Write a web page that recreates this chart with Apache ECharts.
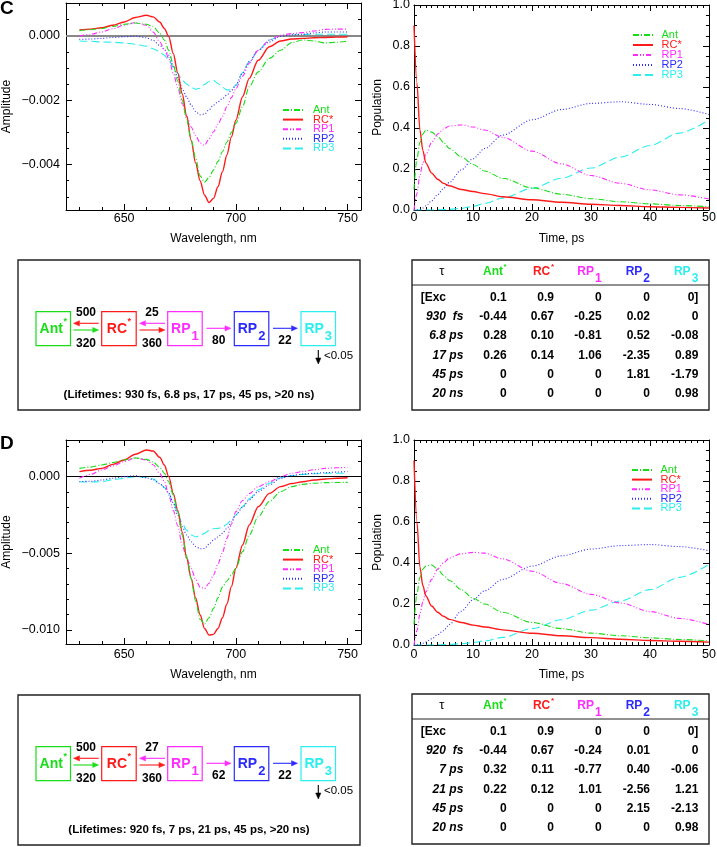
<!DOCTYPE html>
<html><head><meta charset="utf-8">
<script src="https://cdn.jsdelivr.net/npm/echarts@6/dist/echarts.min.js"></script>
<style>html,body{margin:0;padding:0;background:#fff}#c{width:717px;height:847px}</style>
</head><body><div id="c"></div>
<script>
// ---------------- DATA ----------------
const speciesNames = ['Ant', 'RC*', 'RP1', 'RP2', 'RP3'];
const speciesColors = ['#18dd18', '#ff1a1a', '#ff2cff', '#2b2bff', '#2ceeee'];
const speciesDash = [[6, 2, 1, 2], 'solid', [5, 2, 1, 2, 1, 2], [1, 2], [8, 4]];

// wavelength grid (nm), amplitudes in units of 1e-3
const wavelength = [630,635,640,645,650,655,660,663,666,668,670,672,674,676,678,680,682,684,686,688,690,692,694,696,698,700,703,706,710,715,720,725,730,735,740,745,750];

const specC_Ant = [0.16,0.19,0.23,0.29,0.36,0.40,0.36,0.28,0.08,-0.13,-0.45,-0.9,-1.4,-2.0,-2.6,-3.24,-3.8,-4.35,-4.55,-4.4,-4.17,-3.9,-3.6,-3.3,-3.0,-2.72,-2.2,-1.58,-1.12,-0.70,-0.45,-0.21,-0.13,-0.16,-0.22,-0.2,-0.16];
const specC_RC  = [0.18,0.21,0.25,0.33,0.43,0.57,0.64,0.59,0.42,0.23,-0.03,-0.55,-1.15,-1.8,-2.5,-3.24,-3.95,-4.5,-4.95,-5.18,-5.05,-4.69,-4.22,-3.7,-3.14,-2.62,-1.89,-1.32,-0.76,-0.34,-0.16,-0.1,-0.08,-0.06,-0.05,-0.04,-0.03];
const specC_RP1 = [-0.01,0.05,0.12,0.22,0.33,0.41,0.33,0.12,-0.19,-0.42,-0.7,-1.15,-1.6,-2.1,-2.5,-2.83,-3.1,-3.33,-3.40,-3.2,-2.98,-2.75,-2.5,-2.2,-1.92,-1.64,-1.25,-0.85,-0.45,-0.13,0.02,0.07,0.10,0.15,0.2,0.21,0.21];
const specC_RP2 = [-0.11,-0.1,-0.08,-0.05,-0.03,-0.01,-0.06,-0.14,-0.3,-0.42,-0.6,-0.95,-1.3,-1.64,-1.9,-2.15,-2.35,-2.45,-2.43,-2.3,-2.15,-2.05,-1.95,-1.84,-1.7,-1.53,-1.15,-0.8,-0.45,-0.19,-0.01,0.03,0.05,0.09,0.12,0.12,0.12];
const specC_RP3 = [-0.16,-0.17,-0.19,-0.2,-0.22,-0.26,-0.32,-0.4,-0.5,-0.6,-0.76,-0.97,-1.17,-1.38,-1.5,-1.6,-1.66,-1.63,-1.51,-1.42,-1.38,-1.48,-1.6,-1.68,-1.68,-1.53,-1.15,-0.8,-0.45,-0.13,-0.01,0.02,0.04,0.05,0.05,0.05,0.05];

const specD_Ant = [0.54,0.62,0.76,0.92,1.09,1.22,1.13,0.95,0.6,0.22,-0.33,-1.2,-2.3,-3.8,-5.2,-6.63,-8.1,-9.3,-9.6,-9.2,-8.59,-7.9,-7.2,-6.8,-6.41,-5.98,-4.89,-3.8,-2.61,-1.63,-0.98,-0.65,-0.5,-0.43,-0.39,-0.38,-0.37];
const specD_RC  = [0.33,0.42,0.54,0.8,1.09,1.46,1.74,1.67,1.25,0.76,0,-1.09,-2.2,-3.6,-5.33,-6.63,-7.9,-9.0,-9.9,-10.33,-10.28,-9.9,-9.2,-8.3,-7.17,-5.98,-4.46,-3.15,-1.96,-1.09,-0.65,-0.45,-0.33,-0.22,-0.15,-0.1,-0.07];
const specD_RP1 = [-0.11,0.15,0.43,0.7,0.98,1.22,1.09,0.78,0.2,-0.3,-1.2,-2.2,-3.2,-4.46,-5.3,-5.98,-6.7,-7.2,-7.3,-6.95,-6.41,-5.7,-4.95,-4.02,-3.1,-2.28,-1.55,-1.1,-0.65,-0.33,0,0.22,0.33,0.45,0.54,0.58,0.61];
const specD_RP2 = [-0.33,-0.3,-0.22,-0.1,0,0.06,-0.07,-0.2,-0.45,-0.7,-1.09,-1.7,-2.5,-3.26,-3.8,-4.24,-4.55,-4.7,-4.68,-4.4,-4.13,-3.93,-3.7,-3.37,-2.95,-2.5,-2.0,-1.52,-0.98,-0.54,-0.11,0.07,0.17,0.22,0.26,0.3,0.33];
const specD_RP3 = [-0.33,-0.35,-0.33,-0.2,-0.11,-0.01,-0.04,-0.15,-0.45,-0.7,-1.09,-1.7,-2.4,-3.04,-3.5,-3.8,-3.92,-3.85,-3.7,-3.5,-3.4,-3.37,-3.3,-3.1,-2.8,-2.5,-1.95,-1.45,-0.87,-0.43,-0.07,0.07,0.15,0.19,0.22,0.22,0.22];

// time grid (ps), populations
const time = [0,0.5,1,1.5,2,3,4,5,6,8,10,12,15,20,25,30,35,40,45,50];
const popC_Ant = [0.1,0.25,0.33,0.37,0.39,0.38,0.36,0.33,0.30,0.26,0.222,0.19,0.155,0.108,0.077,0.055,0.04,0.03,0.022,0.016];
const popC_RC  = [0.9,0.62,0.39,0.29,0.23,0.18,0.15,0.13,0.118,0.10,0.09,0.08,0.065,0.05,0.038,0.028,0.022,0.016,0.013,0.01];
const popC_RP1 = [0,0.08,0.17,0.23,0.27,0.33,0.37,0.395,0.41,0.415,0.405,0.39,0.355,0.287,0.225,0.168,0.13,0.098,0.074,0.054];
const popC_RP2 = [0,0,0.003,0.01,0.02,0.045,0.075,0.105,0.135,0.195,0.25,0.30,0.365,0.44,0.49,0.52,0.528,0.515,0.495,0.466];
const popC_RP3 = [0,0,0,0,0,0,0.001,0.002,0.003,0.008,0.018,0.032,0.058,0.106,0.155,0.205,0.258,0.315,0.375,0.44];

const popD_Ant = [0.1,0.25,0.33,0.37,0.385,0.39,0.37,0.34,0.315,0.27,0.228,0.2,0.16,0.11,0.08,0.058,0.045,0.035,0.027,0.02];
const popD_RC  = [0.9,0.6,0.38,0.29,0.24,0.19,0.16,0.14,0.125,0.11,0.097,0.088,0.074,0.057,0.045,0.036,0.028,0.022,0.018,0.014];
const popD_RP1 = [0,0.07,0.15,0.21,0.26,0.32,0.37,0.40,0.425,0.445,0.452,0.448,0.42,0.36,0.30,0.247,0.205,0.163,0.13,0.1];
const popD_RP2 = [0,0,0.003,0.008,0.015,0.03,0.05,0.07,0.10,0.165,0.22,0.265,0.32,0.385,0.435,0.468,0.485,0.49,0.48,0.46];
const popD_RP3 = [0,0,0,0,0,0,0.001,0.002,0.003,0.006,0.012,0.02,0.037,0.08,0.123,0.17,0.215,0.27,0.33,0.393];

// tick labels
const specXTicks = [650, 700, 750];
const specCYTicks = [-0.004, -0.002, 0];
const specDYTicks = [-0.010, -0.005, 0];
const popXTicks = [0, 10, 20, 30, 40, 50];
const popYTicks = [0, 0.2, 0.4, 0.6, 0.8, 1.0];

// kinetic schemes
const schemeC_forward = ['320', '360', '80', '22'];
const schemeC_backward = ['500', '25'];
const schemeD_forward = ['320', '360', '62', '22'];
const schemeD_backward = ['500', '27'];
const decayRate = '<0.05';
const lifetimesC = ['930 fs', '6.8 ps', '17 ps', '45 ps', '>20 ns'];
const lifetimesD = ['920 fs', '7 ps', '21 ps', '45 ps', '>20 ns'];

// amplitude tables
const tableHeadTau = '\u03c4';
const rowLabelsC = ['[Exc', '930  fs', '6.8 ps', '17 ps', '45 ps', '20 ns'];
const valuesC = [
  ['0.1', '0.9', '0', '0', '0]'],
  ['-0.44', '0.67', '-0.25', '0.02', '0'],
  ['0.28', '0.10', '-0.81', '0.52', '-0.08'],
  ['0.26', '0.14', '1.06', '-2.35', '0.89'],
  ['0', '0', '0', '1.81', '-1.79'],
  ['0', '0', '0', '0', '0.98']
];
const rowLabelsD = ['[Exc', '920  fs', '7 ps', '21 ps', '45 ps', '20 ns'];
const valuesD = [
  ['0.1', '0.9', '0', '0', '0]'],
  ['-0.44', '0.67', '-0.24', '0.01', '0'],
  ['0.32', '0.11', '-0.77', '0.40', '-0.06'],
  ['0.22', '0.12', '1.01', '-2.56', '1.21'],
  ['0', '0', '0', '2.15', '-2.13'],
  ['0', '0', '0', '0', '0.98']
];
const speciesLabelParts = [
  {m: 'Ant', s: '*', sup: true}, {m: 'RC', s: '*', sup: true},
  {m: 'RP', s: '1', sup: false}, {m: 'RP', s: '2', sup: false}, {m: 'RP', s: '3', sup: false}
];

// ---------------- CHART ----------------
const FONT = '"Liberation Sans", Arial, Helvetica, sans-serif';
const chart = echarts.init(document.getElementById('c'), null, {renderer: 'canvas'});

const grids = [
  {left: 66, top: 3, width: 295, height: 207},
  {left: 414, top: 5, width: 295, height: 205},
  {left: 66, top: 440, width: 295, height: 204},
  {left: 414, top: 440, width: 295, height: 205}
];

function range(a, b, step) { const r = []; for (let v = a; v <= b + step * 1e-6; v += step) r.push(+v.toFixed(6)); return r; }
const yFmt = v => (v < 0 ? '\u2212' : '') + Math.abs(v).toFixed(3);

const panels = [
  {xmin: 624, xmax: 756, ymin: -0.00541, ymax: 0.00102, xMaj: specXTicks, xMin: range(630, 750, 10),
   yMaj: specCYTicks, yMin: range(-0.005, 0.001, 0.0005), yf: yFmt, xName: 'Wavelength, nm', yName: 'Amplitude',
   yNameGap: 53, xNameGap: 23, xMargin: 2, yMargin: 6},
  {xmin: 0, xmax: 50, ymin: 0, ymax: 1, xMaj: popXTicks, xMin: range(0, 50, 1),
   yMaj: popYTicks, yMin: range(0, 1, 0.05), yf: v => v.toFixed(1), xName: 'Time, ps', yName: 'Population',
   yNameGap: 30, xNameGap: 23, xMargin: 1, yMargin: 4},
  {xmin: 624, xmax: 756, ymin: -0.01091, ymax: 0.00239, xMaj: specXTicks, xMin: range(630, 750, 10),
   yMaj: specDYTicks, yMin: range(-0.010, 0.002, 0.001), yf: yFmt, xName: 'Wavelength, nm', yName: 'Amplitude',
   yNameGap: 53, xNameGap: 25, xMargin: 4, yMargin: 6},
  {xmin: 0, xmax: 50, ymin: 0, ymax: 1, xMaj: popXTicks, xMin: range(0, 50, 1),
   yMaj: popYTicks, yMin: range(0, 1, 0.05), yf: v => v.toFixed(1), xName: 'Time, ps', yName: 'Population',
   yNameGap: 30, xNameGap: 24, xMargin: 3, yMargin: 4}
];

const xAxes = [], yAxes = [];
const mainX = [], mainY = [];
const axLine = {show: true, onZero: false, lineStyle: {color: '#000', width: 1}};
const noLine = {show: false, onZero: false};
panels.forEach((p, gi) => {
  const base = {type: 'value', gridIndex: gi, splitLine: {show: false}, minorTick: {show: false}, axisPointer: {show: false}};
  // x axes
  mainX.push(xAxes.length);
  xAxes.push(Object.assign({}, base, {position: 'bottom', min: p.xmin, max: p.xmax, axisLine: axLine,
    axisTick: {show: true, inside: true, length: 6, customValues: p.xMaj, lineStyle: {color: '#000'}},
    axisLabel: {show: true, customValues: p.xMaj, margin: p.xMargin, color: '#000', fontSize: 12.5, fontFamily: FONT},
    name: p.xName, nameLocation: 'middle', nameGap: p.xNameGap, nameTextStyle: {color: '#000', fontSize: 12, fontFamily: FONT}}));
  xAxes.push(Object.assign({}, base, {position: 'bottom', min: p.xmin, max: p.xmax, axisLine: noLine,
    axisTick: {show: true, inside: true, length: 3, customValues: p.xMin, lineStyle: {color: '#000'}}, axisLabel: {show: false}}));
  xAxes.push(Object.assign({}, base, {position: 'top', min: p.xmin, max: p.xmax, axisLine: axLine,
    axisTick: {show: true, inside: true, length: 6, customValues: p.xMaj, lineStyle: {color: '#000'}}, axisLabel: {show: false}}));
  xAxes.push(Object.assign({}, base, {position: 'top', min: p.xmin, max: p.xmax, axisLine: noLine,
    axisTick: {show: true, inside: true, length: 3, customValues: p.xMin, lineStyle: {color: '#000'}}, axisLabel: {show: false}}));
  // y axes
  mainY.push(yAxes.length);
  yAxes.push(Object.assign({}, base, {position: 'left', min: p.ymin, max: p.ymax, axisLine: axLine,
    axisTick: {show: true, inside: true, length: 6, customValues: p.yMaj, lineStyle: {color: '#000'}},
    axisLabel: {show: true, customValues: p.yMaj, margin: p.yMargin, color: '#000', fontSize: 12.5, fontFamily: FONT, formatter: p.yf},
    name: p.yName, nameLocation: 'middle', nameGap: p.yNameGap, nameTextStyle: {color: '#000', fontSize: 12, fontFamily: FONT}}));
  yAxes.push(Object.assign({}, base, {position: 'left', min: p.ymin, max: p.ymax, axisLine: noLine,
    axisTick: {show: true, inside: true, length: 3, customValues: p.yMin, lineStyle: {color: '#000'}}, axisLabel: {show: false}}));
  yAxes.push(Object.assign({}, base, {position: 'right', min: p.ymin, max: p.ymax, axisLine: axLine,
    axisTick: {show: true, inside: true, length: 6, customValues: p.yMaj, lineStyle: {color: '#000'}}, axisLabel: {show: false}}));
  yAxes.push(Object.assign({}, base, {position: 'right', min: p.ymin, max: p.ymax, axisLine: noLine,
    axisTick: {show: true, inside: true, length: 3, customValues: p.yMin, lineStyle: {color: '#000'}}, axisLabel: {show: false}}));
});

const panelData = [
  {x: wavelength, ys: [specC_Ant, specC_RC, specC_RP1, specC_RP2, specC_RP3], scale: 1e-3, zero: {color: '#888', width: 2}},
  {x: time, ys: [popC_Ant, popC_RC, popC_RP1, popC_RP2, popC_RP3], scale: 1},
  {x: wavelength, ys: [specD_Ant, specD_RC, specD_RP1, specD_RP2, specD_RP3], scale: 1e-3, zero: {color: '#000', width: 1}},
  {x: time, ys: [popD_Ant, popD_RC, popD_RP1, popD_RP2, popD_RP3], scale: 1}
];

const series = [];
panelData.forEach((pd, gi) => {
  pd.ys.forEach((arr, k) => {
    const s = {
      type: 'line', name: speciesNames[k], xAxisIndex: mainX[gi], yAxisIndex: mainY[gi],
      data: pd.x.map((x, i) => [x, arr[i] * pd.scale]),
      symbol: 'none', smooth: 0.3, smoothMonotone: 'x', clip: true,
      lineStyle: {color: speciesColors[k], width: k === 1 ? 1.4 : 1.1, type: speciesDash[k]},
      itemStyle: {color: speciesColors[k]}, z: 3 + (5 - k)
    };
    if (k === 0 && pd.zero) {
      s.markLine = {silent: true, symbol: 'none', label: {show: false}, animation: false,
        lineStyle: {color: pd.zero.color, width: pd.zero.width, type: 'solid'}, data: [{yAxis: 0}]};
    }
    series.push(s);
  });
});

function legendAt(left, top, gap, pad) {
  return {
    left: left, top: top, orient: 'vertical', itemWidth: 20, itemHeight: 8, itemGap: gap, padding: 0,
    selectedMode: false,
    itemStyle: {opacity: 0, borderWidth: 0},
    data: speciesNames.map((n, k) => ({name: n, textStyle: {color: speciesColors[k]}})),
    textStyle: {fontSize: 11, fontFamily: FONT, padding: [0, 0, 0, pad]}
  };
}
const legends = [legendAt(282, 104.5, -1.4, 5), legendAt(632, 29.5, -1, 3.5), legendAt(282, 544.5, -1.4, 5), legendAt(631, 464.5, -1.4, 3.5)];

// ---------------- GRAPHIC (schemes and tables) ----------------
const gfx = [];
const mctx = document.createElement('canvas').getContext('2d');
function W(s, font) { mctx.font = font; return mctx.measureText(s).width; }
function T(x, y, s, font, color, align, va) {
  gfx.push({type: 'text', x: x, y: y, silent: true, z: 10,
    style: {text: String(s), font: font, fill: color || '#000', textAlign: align || 'left', textVerticalAlign: va || 'middle',
            align: align || 'left', verticalAlign: va || 'middle'}});
}
function R(x, y, w, h, color, lw) {
  gfx.push({type: 'rect', silent: true, z: 9, shape: {x: x, y: y, width: w, height: h}, style: {fill: 'none', stroke: color, lineWidth: lw}});
}
function L(x1, y1, x2, y2, color, lw) {
  gfx.push({type: 'line', silent: true, z: 9, shape: {x1: x1, y1: y1, x2: x2, y2: y2}, style: {stroke: color, lineWidth: lw}});
}
function arrow(x1, y1, x2, y2, color) {
  const dx = x2 - x1, dy = y2 - y1, len = Math.hypot(dx, dy), ux = dx / len, uy = dy / len;
  const hl = 6, hw = 2.6;
  const bx = x2 - ux * hl, by = y2 - uy * hl;
  L(x1, y1, bx, by, color, 1.1);
  gfx.push({type: 'polygon', silent: true, z: 9, shape: {points: [[x2, y2], [bx - uy * hw, by + ux * hw], [bx + uy * hw, by - ux * hw]]},
    style: {fill: color, stroke: color, lineWidth: 0.5}});
}
function species(k, x, y, anchor, mainFont, supFont, subFont, supDy, subDy) {
  const p = speciesLabelParts[k];
  const f2 = p.sup ? supFont : subFont;
  const w1 = W(p.m, mainFont), w2 = W(p.s, f2);
  const gap = p.sup ? 0.6 : 1;
  const total = w1 + gap + w2;
  const x0 = anchor === 'center' ? x - total / 2 : anchor === 'right' ? x - total : x;
  T(x0, y, p.m, mainFont, speciesColors[k], 'left');
  T(x0 + w1 + gap, y + (p.sup ? supDy : subDy), p.s, f2, speciesColors[k], 'left');
}

const B12 = 'bold 12px ' + FONT;
function scheme(top, fwd, bwd, lifetimes) {
  R(18, top, 342, 150, '#222', 1.4);
  const bx = [36, 101.7, 167.7, 234.3, 301], bw = 34.5, bh = 34, by = top + 51.7;
  bx.forEach((x, k) => {
    R(x, by, bw, bh, speciesColors[k], 1.2);
    species(k, x + bw / 2, by + 17.5, 'center', 'bold 14px ' + FONT, 'bold 9px ' + FONT, 'bold 13px ' + FONT, -8, 7.5);
  });
  const yU = top + 63.3, yL = top + 70, yM = top + 68.3;
  // Ant <-> RC
  arrow(98.7, yU, 73.5, yU, speciesColors[1]);
  arrow(73.5, yL, 98.7, yL, speciesColors[0]);
  T(86, top + 52.7, bwd[0], B12, '#000', 'center');
  T(86, top + 83.3, fwd[0], B12, '#000', 'center');
  // RC <-> RP1
  arrow(165, yU, 139.5, yU, speciesColors[2]);
  arrow(139.5, yL, 165, yL, speciesColors[1]);
  T(152, top + 52.7, bwd[1], B12, '#000', 'center');
  T(152, top + 83.3, fwd[1], B12, '#000', 'center');
  // RP1 -> RP2
  arrow(206.5, yM, 231, yM, speciesColors[2]);
  T(218.7, top + 80.7, fwd[2], B12, '#000', 'center');
  // RP2 -> RP3
  arrow(273, yM, 297.5, yM, speciesColors[3]);
  T(285, top + 80.7, fwd[3], B12, '#000', 'center');
  // decay
  arrow(318.3, top + 90, 318.3, top + 104, '#000');
  T(324, top + 95.7, decayRate, '11.5px ' + FONT, '#000', 'left');
  T(189, top + 135, '(Lifetimes: ' + lifetimes.join(', ') + ')', 'bold 11.5px ' + FONT, '#000', 'center');
}
function table(top, rowLabels, values) {
  R(412, top, 297, 150, '#222', 1.4);
  L(412, top + 25, 709, top + 25, '#222', 1.2);
  T(441.7, top + 11.7, tableHeadTau, '13px ' + FONT, '#000', 'center');
  const colRight = [506.7, 554, 601.7, 650, 698.3];
  colRight.forEach((x, k) => species(k, x, top + 11.7, 'right', B12, 'bold 8px ' + FONT, B12, -4.5, 6.5));
  rowLabels.forEach((lab, i) => {
    const y = top + 37.3 + i * 19.3;
    if (i === 0) T(420.7, y, lab, B12, '#000', 'left');
    else T(463.3, y, lab, 'italic bold 12px ' + FONT, '#000', 'right');
    values[i].forEach((v, k) => T(colRight[k], y, v, B12, '#000', 'right'));
  });
}
scheme(260, schemeC_forward, schemeC_backward, lifetimesC);
table(260, rowLabelsC, valuesC);
scheme(695, schemeD_forward, schemeD_backward, lifetimesD);
table(694, rowLabelsD, valuesD);
T(0, 9, 'C', 'bold 19px ' + FONT, '#000', 'left');
T(0, 444, 'D', 'bold 19px ' + FONT, '#000', 'left');

chart.setOption({
  animation: false,
  backgroundColor: '#fff',
  grid: grids.map(g => Object.assign({containLabel: false, outerBoundsMode: 'none'}, g)),
  xAxis: xAxes,
  yAxis: yAxes,
  legend: legends,
  series: series,
  graphic: {elements: gfx}
});
</script>
</body></html>
